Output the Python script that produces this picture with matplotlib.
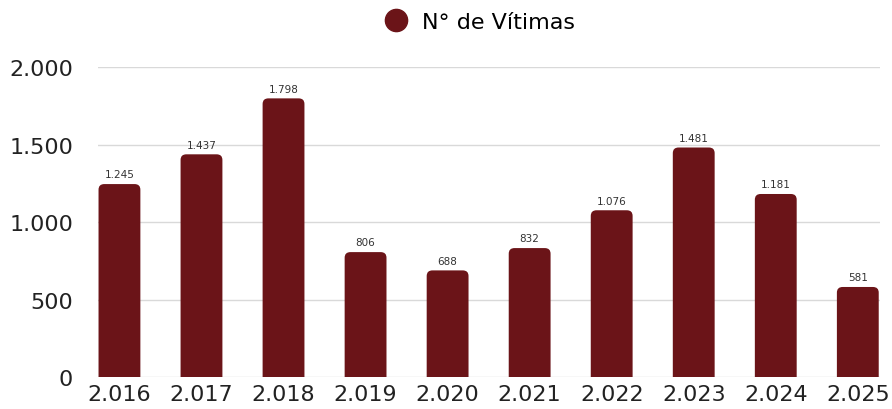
import matplotlib
matplotlib.use("Agg")
import matplotlib.pyplot as plt
from matplotlib.patches import FancyBboxPatch
from matplotlib.lines import Line2D

years = ["2.016", "2.017", "2.018", "2.019", "2.020", "2.021", "2.022", "2.023", "2.024", "2.025"]
victims = [1245, 1437, 1798, 806, 688, 832, 1076, 1481, 1181, 581]
value_labels = ["1.245", "1.437", "1.798", "806", "688", "832", "1.076", "1.481", "1.181", "581"]
yticks = [0, 500, 1000, 1500, 2000]
ytick_labels = ["0", "500", "1.000", "1.500", "2.000"]
series_name = "N° de Vítimas"

color = "#6b1418"
plt.rcParams['font.family'] = ['DejaVu Sans']

fig = plt.figure(figsize=(8.92, 4.10), dpi=100)
ax = fig.add_axes([0.110, 0.078, 0.8765, 0.756])

x = list(range(len(years)))
width = 0.51
bars = ax.bar(x, victims, width=width, color=color)
# replace with rounded-top patches
for b in bars:
    b.set_visible(False)
    bx, bw, bh = b.get_x(), b.get_width(), b.get_height()
    p = FancyBboxPatch((bx, -60), bw, bh + 60,
                       boxstyle="round,pad=0,rounding_size=0.07",
                       mutation_aspect=520, facecolor=color, edgecolor="none",
                       zorder=3, clip_on=True)
    ax.add_patch(p)

for xi, v, lab in zip(x, victims, value_labels):
    ax.text(xi, v + 30, lab, ha="center", va="bottom", fontsize=7.5, color="#333333", zorder=4)

ax.set_xlim(-0.26, 9.27)
ax.set_ylim(0, 2000)
ax.set_yticks(yticks)
ax.set_yticklabels(ytick_labels, fontsize=16, color="#222222")
ax.set_xticks(x)
ax.set_xticklabels(years, fontsize=16, color="#222222")
ax.tick_params(axis="both", length=0)
ax.tick_params(axis="y", pad=18)
ax.tick_params(axis="x", pad=5)
ax.grid(axis="y", color="#d9d9d9", linewidth=1, zorder=0)
ax.set_axisbelow(True)
for s in ax.spines.values():
    s.set_visible(False)

handle = Line2D([], [], marker="o", linestyle="none", markersize=16,
                markerfacecolor=color, markeredgecolor=color)
fig.legend([handle], [series_name], loc="center", bbox_to_anchor=(0.535, 0.944),
           frameon=False, fontsize=16, handletextpad=0.45, handlelength=1.5,
           borderaxespad=0)

fig.savefig("out.png", dpi=100, facecolor="white")
